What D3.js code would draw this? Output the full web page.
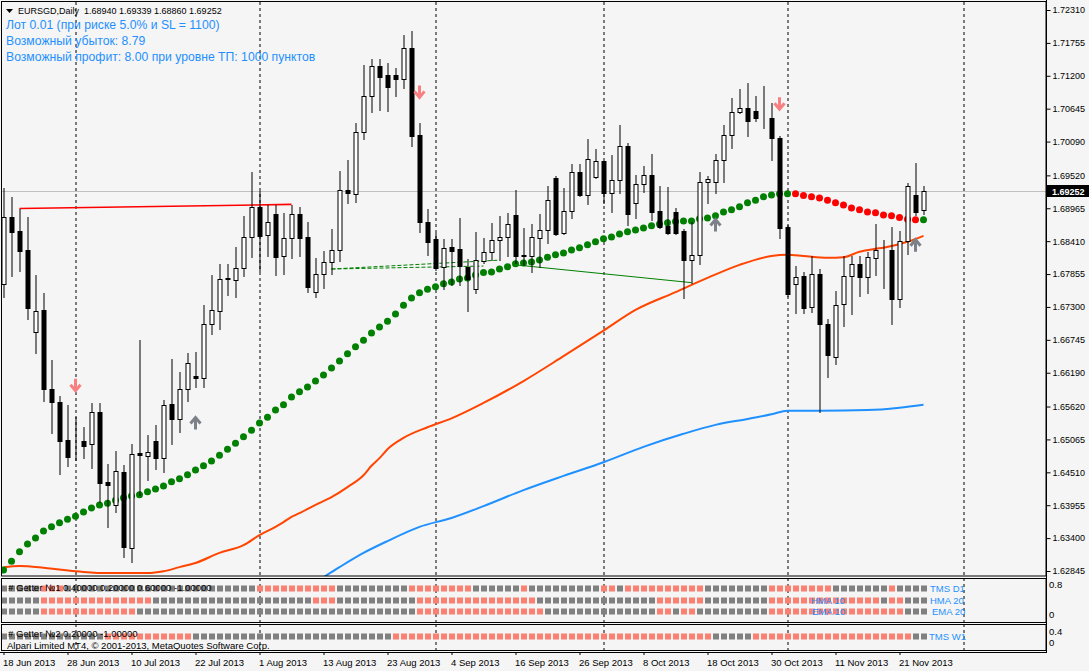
<!DOCTYPE html>
<html>
<head>
<meta charset="utf-8">
<script src="https://cdn.jsdelivr.net/npm/d3@7"></script>
<style>
body { margin: 0; background: #f5f5f5; }
svg { display: block; font-family: "Liberation Sans", Arial, sans-serif; }
</style>
</head>
<body>
<svg id="chart"></svg>
<script>
// ---- data ----
const dateLabels = ["18 Jun 2013","28 Jun 2013","10 Jul 2013","22 Jul 2013","1 Aug 2013","13 Aug 2013",
  "23 Aug 2013","4 Sep 2013","16 Sep 2013","26 Sep 2013","8 Oct 2013","18 Oct 2013","30 Oct 2013",
  "11 Nov 2013","21 Nov 2013"];
const dateLabelBars = [0,8,16,24,32,40,48,56,64,72,80,88,96,104,112];
const gridBars = [9, 32, 54, 75, 98, 120];

const priceTicks = [1.72310,1.71755,1.71200,1.70645,1.70090,1.69520,1.68965,1.68410,1.67855,
  1.67300,1.66745,1.66190,1.65620,1.65065,1.64510,1.63955,1.63400,1.62845];
const lastPrice = 1.69252;

const opens = [1.6768,1.6882,1.6858,1.6826,1.6688,1.6725,1.6592,1.6570,1.6506,1.6503,
  1.6503,1.6498,1.6553,1.6435,1.6396,1.6452,1.6323,1.6484,1.6479,1.6504,
  1.6475,1.6566,1.6541,1.6592,1.6614,1.6610,1.6701,1.6723,1.6777,1.6776,
  1.6796,1.6848,1.6899,1.6852,1.6887,1.6816,1.6846,1.6887,1.6848,1.6755,
  1.6786,1.6806,1.6826,1.6928,1.6921,1.7025,1.7086,1.7137,1.7121,1.7121,
  1.7115,1.7167,1.7020,1.6874,1.6845,1.6798,1.6831,1.6828,1.6798,1.6760,
  1.6808,1.6823,1.6843,1.6848,1.6885,1.6818,1.6816,1.6846,1.6860,1.6948,
  1.6855,1.6892,1.6958,1.6919,1.6949,1.6976,1.6922,1.6944,1.7002,1.6905,
  1.6938,1.6953,1.6892,1.6867,1.6890,1.6858,1.6809,1.6818,1.6941,1.6941,
  1.6978,1.7020,1.7059,1.7066,1.7061,1.7049,1.7049,1.7015,1.6865,1.6768,
  1.6783,1.6730,1.6786,1.6701,1.6646,1.6735,1.6783,1.6803,1.6781,1.6813,
  1.6826,1.6826,1.6744,1.6841,1.6919,1.68940];
const highs = [1.6930,1.6916,1.6896,1.6882,1.6784,1.6754,1.6641,1.6580,1.6565,1.6544,
  1.6528,1.6568,1.6568,1.6465,1.6487,1.6464,1.6499,1.6674,1.6514,1.6531,
  1.6573,1.6642,1.6620,1.6653,1.6654,1.6733,1.6784,1.6802,1.6802,1.6831,
  1.6884,1.6958,1.6925,1.6902,1.6902,1.6889,1.6902,1.6899,1.6874,1.6813,
  1.6824,1.6862,1.6960,1.6978,1.7041,1.7138,1.7148,1.7148,1.7142,1.7133,
  1.7189,1.7196,1.7041,1.6896,1.6855,1.6845,1.6845,1.6880,1.6811,1.6857,
  1.6846,1.6872,1.6884,1.6889,1.6928,1.6863,1.6870,1.6887,1.6934,1.6951,
  1.6931,1.6971,1.6971,1.7014,1.6996,1.6977,1.6986,1.7037,1.7007,1.6953,
  1.6968,1.6988,1.6934,1.6932,1.6897,1.6862,1.6874,1.6958,1.6951,1.6988,
  1.7037,1.7083,1.7098,1.7108,1.7086,1.7103,1.7074,1.7019,1.6868,1.6799,
  1.6789,1.6816,1.6794,1.6710,1.6757,1.6816,1.6816,1.6816,1.6823,1.6870,
  1.6843,1.6865,1.6858,1.6939,1.6973,1.69339];
const lows = [1.6747,1.6783,1.6791,1.6710,1.6653,1.6571,1.6518,1.6448,1.6462,1.6472,
  1.6475,1.6458,1.6401,1.6359,1.6384,1.6308,1.6300,1.6413,1.6438,1.6457,
  1.6452,1.6499,1.6519,1.6571,1.6595,1.6595,1.6684,1.6693,1.6751,1.6747,
  1.6783,1.6814,1.6791,1.6816,1.6784,1.6786,1.6813,1.6816,1.6755,1.6747,
  1.6762,1.6786,1.6808,1.6905,1.6907,1.7014,1.7059,1.7062,1.7061,1.7086,
  1.7099,1.7002,1.6857,1.6818,1.6793,1.6760,1.6767,1.6767,1.6723,1.6754,
  1.6804,1.6809,1.6809,1.6816,1.6804,1.6801,1.6789,1.6798,1.6838,1.6852,
  1.6853,1.6880,1.6917,1.6904,1.6948,1.6905,1.6890,1.6922,1.6868,1.6880,
  1.6924,1.6877,1.6863,1.6853,1.6853,1.6745,1.6771,1.6803,1.6905,1.6922,
  1.6941,1.6998,1.7058,1.7019,1.7044,1.7032,1.6978,1.6846,1.6749,1.6720,
  1.6720,1.6722,1.6553,1.6612,1.6634,1.6698,1.6718,1.6749,1.6754,1.6784,
  1.6762,1.6701,1.6730,1.6820,1.6885,1.68860];
const closes = [1.6882,1.6857,1.6824,1.6728,1.6723,1.6592,1.6570,1.6504,1.6477,1.6503,
  1.6496,1.6553,1.6433,1.6430,1.6453,1.6325,1.6482,1.6480,1.6485,1.6475,
  1.6565,1.6541,1.6592,1.6636,1.6610,1.6701,1.6725,1.6777,1.6778,1.6796,
  1.6848,1.6899,1.6850,1.6874,1.6814,1.6846,1.6887,1.6846,1.6764,1.6786,
  1.6806,1.6826,1.6928,1.6922,1.7025,1.7086,1.7137,1.7118,1.7101,1.7115,
  1.7167,1.7019,1.6874,1.6840,1.6796,1.6830,1.6825,1.6799,1.6777,1.6809,
  1.6823,1.6843,1.6848,1.6870,1.6816,1.6816,1.6848,1.6860,1.6911,1.6853,
  1.6892,1.6958,1.6919,1.6980,1.6976,1.6922,1.6944,1.7002,1.6887,1.6938,
  1.6953,1.6890,1.6865,1.6855,1.6855,1.6809,1.6818,1.6941,1.6946,1.6978,
  1.7020,1.7059,1.7066,1.7044,1.7049,1.7049,1.7015,1.6863,1.6752,1.6781,
  1.6728,1.6786,1.6701,1.6649,1.6733,1.6783,1.6803,1.6781,1.6814,1.6826,
  1.6826,1.6744,1.6841,1.6934,1.6890,1.69252];

// dotted trend indicator, one dot per bar
const dotValues = [1.6286,1.6301,1.6317,1.6330,1.6340,1.6352,1.6359,1.6366,1.6372,1.6377,
  1.6384,1.6391,1.6396,1.6399,1.6404,1.6408,1.6411,1.6413,1.6418,1.6423,
  1.6428,1.6435,1.6440,1.6447,1.6455,1.6462,1.6470,1.6480,1.6490,1.6500,
  1.6511,1.6522,1.6534,1.6544,1.6556,1.6565,1.6578,1.6587,1.6595,1.6605,
  1.6615,1.6627,1.6639,1.6651,1.6663,1.6674,1.6686,1.6696,1.6706,1.6718,
  1.6733,1.6745,1.6754,1.6760,1.6764,1.6769,1.6772,1.6777,1.6779,1.6784,
  1.6788,1.6789,1.6794,1.6798,1.6803,1.6804,1.6806,1.6809,1.6814,1.6818,
  1.6821,1.6826,1.6830,1.6835,1.6840,1.6845,1.6848,1.6853,1.6857,1.6860,
  1.6863,1.6867,1.6870,1.6872,1.6874,1.6875,1.6875,1.6879,1.6880,1.6884,
  1.6890,1.6894,1.6899,1.6906,1.6910,1.6916,1.6919,1.6921,1.6921,1.6921,
  1.6918,1.6916,1.6914,1.6910,1.6906,1.6902,1.6897,1.6894,1.6890,1.6889,
  1.6885,1.6884,1.6881,1.6878,1.6877,1.6877];
const dotRuns = [99, 16, 1];   // green, red, green

// moving averages (bar index, value)
const orangeBars = [0,2,5,7,10,13,18,20,22,24,27,30,32,34,35,36,37,39,41,43,45,46,47,48,50,53,56,60,
  65,70,75,79,84,88,92,96,98,100,103,105,107,109,110,113,115];
const orangeVals = [1.6291,1.6293,1.6290,1.6287,1.6283,1.6281,1.6281,1.6284,1.6291,1.6298,1.6315,
  1.6328,1.6345,1.6359,1.6367,1.6376,1.6382,1.6396,1.6409,1.6426,1.6446,1.6462,1.6475,1.6490,1.6509,
  1.6527,1.6542,1.6568,1.6605,1.6647,1.6690,1.6725,1.6755,1.6779,1.6801,1.6816,1.6818,1.6816,1.6813,
  1.6814,1.6823,1.6828,1.6830,1.6840,1.6850];
const blueBars = [40,42,45,48,52,56,60,65,70,75,80,85,89,93,96,98,102,108,112,115];
const blueVals = [1.6274,1.6291,1.6315,1.6335,1.6359,1.6374,1.6394,1.6421,1.6445,1.6468,1.6494,
  1.6516,1.6531,1.6541,1.6549,1.6555,1.6555,1.6556,1.6560,1.6565];

// drawn objects
const redLine = [[2, 1.6896], [36, 1.6903]];
const greenDashA = [[41, 1.6794], [62, 1.6809]];
const greenDashB = [[41, 1.6794], [60, 1.6799]];
const greenSolid = [[64, 1.6801], [86, 1.6771]];
const downArrowBars = [9, 52, 97];
const downArrowVals = [1.6597, 1.7092, 1.7072];
const upArrowBars = [24, 89, 114];
const upArrowVals = [1.6535, 1.6869, 1.6835];

// Getter panels, run lengths starting with grey (0 = grey, 1 = red)
const tmsD1Runs = [5,3,24,10,9,8,6,1,9,2,1,10,8,8,7,1,4];
const hmaRuns   = [5,14,20,3,10,15,15,6,8,14,1,2,3];
const emaRuns   = [5,12,35,16,14,2,1,2,9,17,3];
const tmsW1Runs = [13,11,25,40,5,20,2];

const infoLines = ["Лот 0.01 (при риске 5.0% и SL = 1100)",
  "Возможный убыток: 8.79",
  "Возможный профит: 8.00 при уровне ТП: 1000 пунктов"];

// ---- layout ----
const W = 1089, H = 671;
const axisX = 1046;
const mainTop = 2, mainBottom = 576;
const p1Top = 578, p1Bottom = 622, p2Top = 624, p2Bottom = 650;
const BLUE = "#1e90ff", SALMON = "#fa8072", GREY = "#808080";

function expandRuns(runs) {
  const out = [];
  runs.forEach((n, k) => { for (let j = 0; j < n; j++) out.push(k % 2); });
  return out;
}

const svg = d3.select("#chart").attr("width", W).attr("height", H);
svg.append("rect").attr("width", W).attr("height", H).attr("fill", "#f5f5f5");

const x = d3.scaleLinear().domain([0, 1]).range([3.5, 11.5]);
const y = d3.scaleLinear().domain([1.62845, 1.72310]).range([571, 10]);
const snap = v => Math.round(v) + 0.5;

svg.append("clipPath").attr("id", "mainClip")
  .append("rect").attr("x", 2).attr("y", mainTop).attr("width", axisX - 2).attr("height", mainBottom - mainTop);

// grid
const grid = svg.append("g").attr("stroke", "#000").attr("stroke-dasharray", "3,3");
[[mainTop, mainBottom], [p1Top, p1Bottom], [p2Top, p2Bottom]].forEach(([a, b]) => {
  grid.selectAll(null).data(gridBars).enter().append("line")
    .attr("x1", d => snap(x(d)) - 0.5).attr("x2", d => snap(x(d)) - 0.5)
    .attr("y1", a).attr("y2", b);
});

const main = svg.append("g").attr("clip-path", "url(#mainClip)");

// last price line
main.append("line").attr("x1", 0).attr("x2", axisX)
  .attr("y1", snap(y(lastPrice))).attr("y2", snap(y(lastPrice)))
  .attr("stroke", "#c0c0c0");

// moving averages
const maLine = d3.line().x(d => x(d[0])).y(d => y(d[1])).curve(d3.curveMonotoneX);
main.append("path").attr("d", maLine(orangeBars.map((b, k) => [b, orangeVals[k]])))
  .attr("fill", "none").attr("stroke", "#ff4500").attr("stroke-width", 2);
main.append("path").attr("d", maLine(blueBars.map((b, k) => [b, blueVals[k]])))
  .attr("fill", "none").attr("stroke", BLUE).attr("stroke-width", 2);

// dots
const dotUp = expandRuns(dotRuns);
main.append("g").selectAll("circle").data(dotValues).enter().append("circle")
  .attr("cx", (d, i) => x(i)).attr("cy", d => y(d)).attr("r", 3.5)
  .attr("fill", (d, i) => dotUp[i] === 0 ? "#008000" : "#ff0000");

// objects
const seg = d3.line().x(d => x(d[0])).y(d => y(d[1]));
main.append("path").attr("d", seg(redLine)).attr("stroke", "#ff0000").attr("stroke-width", 1.6).attr("fill", "none");
main.append("path").attr("d", seg(greenDashA)).attr("stroke", "#008000").attr("stroke-dasharray", "4,2").attr("fill", "none");
main.append("path").attr("d", seg(greenDashB)).attr("stroke", "#008000").attr("stroke-dasharray", "4,2").attr("fill", "none");
main.append("path").attr("d", seg(greenSolid)).attr("stroke", "#008000").attr("fill", "none");

// candles
const bars = opens.map((o, i) => ({ i, o, h: highs[i], l: lows[i], c: closes[i] }));
const cg = main.append("g").selectAll("g").data(bars).enter().append("g");
cg.append("line")
  .attr("x1", d => snap(x(d.i)) - 0.5).attr("x2", d => snap(x(d.i)) - 0.5)
  .attr("y1", d => Math.round(y(d.h))).attr("y2", d => Math.round(y(d.l)) + 1)
  .attr("stroke", "#000");
cg.append("rect")
  .attr("x", d => snap(x(d.i)) - 2.5)
  .attr("y", d => snap(y(Math.max(d.o, d.c))))
  .attr("width", 4)
  .attr("height", d => Math.max(0, snap(y(Math.min(d.o, d.c))) - snap(y(Math.max(d.o, d.c)))))
  .attr("fill", d => d.c >= d.o ? "#fff" : "#000")
  .attr("stroke", "#000");

// arrows
const arrows = svg.append("g").attr("fill", "none").attr("stroke-width", 3);
downArrowBars.forEach((b, k) => {
  const cx = x(b), cy = y(downArrowVals[k]);
  arrows.append("path").attr("stroke", "#f88080")
    .attr("d", `M${cx},${cy - 7} V${cy + 4} M${cx - 5},${cy - 1} L${cx},${cy + 5} L${cx + 5},${cy - 1}`);
});
upArrowBars.forEach((b, k) => {
  const cx = x(b), cy = y(upArrowVals[k]);
  arrows.append("path").attr("stroke", "#7c8088")
    .attr("d", `M${cx},${cy + 7} V${cy - 4} M${cx - 5},${cy + 1} L${cx},${cy - 5} L${cx + 5},${cy + 1}`);
});

// Getter panels
const panelRows = [
  { vals: expandRuns(tmsD1Runs), cy: 588.5 },
  { vals: expandRuns(hmaRuns), cy: 600.5 },
  { vals: expandRuns(emaRuns), cy: 611.5 },
  { vals: expandRuns(tmsW1Runs), cy: 636.5 }
];
panelRows.forEach(row => {
  svg.append("g").selectAll("rect").data(row.vals).enter().append("rect")
    .attr("x", (d, i) => snap(x(i)) - 3.5).attr("y", row.cy - 3)
    .attr("width", 6).attr("height", 6)
    .attr("fill", d => d === 1 ? SALMON : GREY);
});

// frames
const frames = svg.append("g").attr("fill", "none").attr("stroke", "#000");
frames.append("rect").attr("x", 1.5).attr("y", 1.5).attr("width", axisX - 1.5).attr("height", mainBottom - 1.5);
frames.append("rect").attr("x", 1.5).attr("y", p1Top + 0.5).attr("width", axisX - 1.5).attr("height", p1Bottom - p1Top);
frames.append("rect").attr("x", 1.5).attr("y", p2Top + 0.5).attr("width", axisX - 1.5).attr("height", p2Bottom - p2Top);
frames.append("line").attr("x1", 0).attr("x2", axisX).attr("y1", 652.5).attr("y2", 652.5);
frames.append("line").attr("x1", axisX + 0.5).attr("x2", axisX + 0.5).attr("y1", 0).attr("y2", 653);

// price axis
const yAxis = svg.append("g").attr("transform", `translate(${axisX + 0.5},0)`)
  .call(d3.axisRight(y).tickValues(priceTicks).tickSize(4).tickPadding(2).tickFormat(d3.format(".5f")));
yAxis.select(".domain").remove();
yAxis.selectAll("text").attr("font-size", 9).attr("font-family", "Liberation Sans, Arial, sans-serif");

svg.append("rect").attr("x", axisX + 1).attr("y", snap(y(lastPrice)) - 6.5)
  .attr("width", W - axisX - 1).attr("height", 12).attr("fill", "#000");
svg.append("text").attr("x", axisX + 6).attr("y", snap(y(lastPrice)) + 3)
  .attr("fill", "#fff").attr("font-size", 9).attr("font-weight", "bold").text(d3.format(".5f")(lastPrice));

// panel scale labels
const pl = svg.append("g").attr("font-size", 9.5).attr("fill", "#000");
[["0.8", 588], ["0", 618], ["0.4", 635], ["0", 646]].forEach(([t, yy]) => {
  pl.append("text").attr("x", axisX + 3).attr("y", yy).text(t);
});

// time axis
const xAxis = svg.append("g").attr("transform", "translate(0,652)")
  .call(d3.axisBottom(x).tickValues(dateLabelBars).tickSize(3).tickFormat((d, k) => dateLabels[k]));
xAxis.select(".domain").remove();
xAxis.selectAll("text").attr("font-size", 9.5).attr("font-family", "Liberation Sans, Arial, sans-serif")
  .attr("text-anchor", "start").attr("x", -1).attr("y", 13.5).attr("dy", 0);

// texts
svg.append("path").attr("d", "M6,9 L13,9 L9.5,13 Z").attr("fill", "#000");
svg.append("text").attr("x", 18).attr("y", 13.5).attr("font-size", 9).attr("fill", "#000")
  .attr("xml:space", "preserve").text("EURSGD,Daily  1.68940 1.69339 1.68860 1.69252");
svg.append("g").selectAll("text").data(infoLines).enter().append("text")
  .attr("x", 6).attr("y", (d, k) => [29, 45, 60.5][k])
  .attr("font-size", 12.2).attr("fill", BLUE).text(d => d);

const lab = svg.append("g").attr("font-size", 9.5);
lab.append("text").attr("x", 8).attr("y", 591).attr("fill", "#000").text("# Getter №1 0.40000 0.20000 0.60000 -1.00000");
lab.append("text").attr("x", 8).attr("y", 636.5).attr("fill", "#000").text("# Getter №2 0.20000 -1.00000");
lab.append("text").attr("x", 7).attr("y", 648.5).attr("fill", "#000").text("Alpari Limited MT4, © 2001-2013, MetaQuotes Software Corp.");
[["TMS D1", 930, 592], ["HMA 20", 930, 604], ["EMA 20", 932, 614.5], ["HMA 10", 811, 604],
 ["EMA 10", 812, 614.5], ["TMS W1", 929, 640]].forEach(([t, xx, yy]) => {
  lab.append("text").attr("x", xx).attr("y", yy).attr("fill", BLUE).text(t);
});
</script>
</body>
</html>
